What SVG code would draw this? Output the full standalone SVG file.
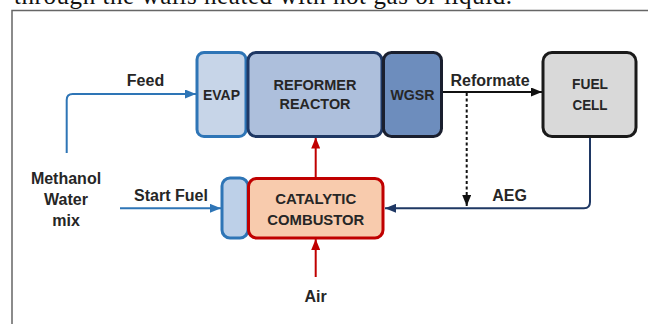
<svg xmlns="http://www.w3.org/2000/svg" width="648" height="324" viewBox="0 0 648 324">
<style>
.t{font-family:"Liberation Sans","Arial",sans-serif;font-weight:bold;font-size:16px;fill:#262626;text-anchor:middle}
.b{font-size:15.5px}
.box{stroke-width:3}
.ln{fill:none;stroke-width:2}
</style>
<defs>
<marker id="aBlue" markerUnits="userSpaceOnUse" markerWidth="11" markerHeight="9" refX="11" refY="4.5" orient="auto"><path d="M0,0 L11,4.5 L0,9 z" fill="#2e75b6"/></marker>
<marker id="aBlack" markerUnits="userSpaceOnUse" markerWidth="11" markerHeight="9" refX="11" refY="4.5" orient="auto"><path d="M0,0 L11,4.5 L0,9 z" fill="#111"/></marker>
<marker id="aNavy" markerUnits="userSpaceOnUse" markerWidth="11" markerHeight="9" refX="11" refY="4.5" orient="auto"><path d="M0,0 L11,4.5 L0,9 z" fill="#1f3864"/></marker>
<marker id="aRed" markerUnits="userSpaceOnUse" markerWidth="11" markerHeight="9" refX="11" refY="4.5" orient="auto"><path d="M0,0 L11,4.5 L0,9 z" fill="#c00000"/></marker>
</defs>
<rect width="648" height="324" fill="#fff"/>
<text x="14" y="4" font-family="Liberation Serif, serif" font-size="25" fill="#111" textLength="498">through the walls heated with hot gas or liquid.</text>
<path d="M12,324 V10.5 H648" fill="none" stroke="#666" stroke-width="1.5"/>

<g id="connectors">
<path class="ln" d="M66.7,153 V100 Q66.7,94 72.7,94 H196" stroke="#2e75b6" marker-end="url(#aBlue)"/>
<path class="ln" d="M442,92 H542" stroke="#111" marker-end="url(#aBlack)"/>
<path class="ln" d="M466.7,93 V206" stroke="#111" stroke-dasharray="3,2.5" marker-end="url(#aBlack)"/>
<path class="ln" d="M590,137 V202 Q590,208.3 584,208.3 H385" stroke="#1f3864" marker-end="url(#aNavy)"/>
<path class="ln" d="M120,208.3 H221" stroke="#2e75b6" marker-end="url(#aBlue)"/>
<path class="ln" d="M315.7,178 V137.5" stroke="#c00000" marker-end="url(#aRed)"/>
<path class="ln" d="M315.7,277 V239" stroke="#c00000" marker-end="url(#aRed)"/>
</g>

<g id="evap"><rect class="box" x="197" y="52.5" width="49" height="84" rx="7" fill="#c7d5e8" stroke="#2e75b6"/><text class="t b" x="221.5" y="100" textLength="37" lengthAdjust="spacingAndGlyphs">EVAP</text></g>
<g id="reformer"><rect class="box" x="248" y="52.5" width="134" height="84" rx="8" fill="#adbfdc" stroke="#1f3864"/><text class="t b" x="315" y="90" textLength="83" lengthAdjust="spacingAndGlyphs">REFORMER</text><text class="t b" x="315" y="109" textLength="71" lengthAdjust="spacingAndGlyphs">REACTOR</text></g>
<g id="wgsr"><rect class="box" x="383.5" y="52.5" width="58" height="84" rx="8" fill="#6d8dbd" stroke="#1a1f2e"/><text class="t b" x="412.5" y="100" textLength="44" lengthAdjust="spacingAndGlyphs">WGSR</text></g>
<g id="fuelcell"><rect class="box" x="543" y="52.5" width="93" height="84" rx="9" fill="#d9d9d9" stroke="#1a1a1a"/><text class="t b" x="590" y="89" textLength="36" lengthAdjust="spacingAndGlyphs">FUEL</text><text class="t b" x="590" y="110" textLength="35" lengthAdjust="spacingAndGlyphs">CELL</text></g>
<g id="startbox"><rect class="box" x="222" y="178" width="26" height="60" rx="8" fill="#bdd0e8" stroke="#2e75b6"/></g>
<g id="combustor"><rect class="box" x="248.5" y="178.5" width="134.5" height="59.5" rx="8" fill="#f8cbad" stroke="#c00000"/><text class="t b" x="315.8" y="203.5" textLength="81" lengthAdjust="spacingAndGlyphs">CATALYTIC</text><text class="t b" x="315.8" y="224.5" textLength="97" lengthAdjust="spacingAndGlyphs">COMBUSTOR</text></g>

<g id="labels">
<text class="t" x="145.5" y="86">Feed</text>
<text class="t" x="490" y="85.5">Reformate</text>
<text class="t" x="509.5" y="200.5">AEG</text>
<text class="t" x="171" y="200.5">Start Fuel</text>
<text class="t" x="315.5" y="302">Air</text>
<text class="t" x="66" y="184">Methanol</text>
<text class="t" x="66" y="205">Water</text>
<text class="t" x="66" y="226">mix</text>
</g>
</svg>
